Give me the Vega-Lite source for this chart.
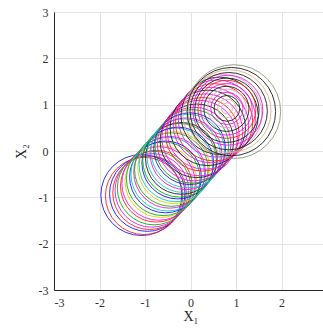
{
  "$schema": "https://vega.github.io/schema/vega-lite/v6.json",
  "autosize": "none",
  "padding": {"left": 54, "top": 12, "right": 0, "bottom": 39},
  "width": 273,
  "height": 278,
  "background": "white",
  "config": {
    "view": {"stroke": "#262626", "strokeWidth": 1},
    "axis": {
      "labelFont": "Liberation Serif", "labelFontSize": 12, "labelColor": "#333333",
      "titleFont": "Liberation Serif", "titleFontSize": 14, "titleFontWeight": "normal", "titleColor": "#262626",
      "domainColor": "#262626", "ticks": false,
      "gridColor": "#e3e3e3", "gridWidth": 1
    }
  },
  "data": {"values": [
    {"cx": -1.08, "cy": -0.95, "r": 0.88, "c": "b"},
    {"cx": -1.02, "cy": -0.97, "r": 0.84, "c": "r"},
    {"cx": -0.95, "cy": -0.92, "r": 0.82, "c": "b"},
    {"cx": -0.9, "cy": -0.9, "r": 0.8, "c": "r"},
    {"cx": -0.85, "cy": -0.85, "r": 0.8, "c": "m"},
    {"cx": -0.8, "cy": -0.8, "r": 0.8, "c": "g"},
    {"cx": -0.75, "cy": -0.76, "r": 0.78, "c": "r"},
    {"cx": -0.7, "cy": -0.7, "r": 0.8, "c": "m"},
    {"cx": -0.65, "cy": -0.66, "r": 0.78, "c": "y"},
    {"cx": -0.6, "cy": -0.6, "r": 0.8, "c": "g"},
    {"cx": -0.55, "cy": -0.56, "r": 0.78, "c": "b"},
    {"cx": -0.5, "cy": -0.5, "r": 0.8, "c": "c"},
    {"cx": -0.46, "cy": -0.46, "r": 0.78, "c": "m"},
    {"cx": -0.42, "cy": -0.4, "r": 0.8, "c": "g"},
    {"cx": -0.37, "cy": -0.36, "r": 0.78, "c": "y"},
    {"cx": -0.32, "cy": -0.3, "r": 0.8, "c": "c"},
    {"cx": -0.28, "cy": -0.26, "r": 0.78, "c": "b"},
    {"cx": -0.24, "cy": -0.2, "r": 0.8, "c": "g"},
    {"cx": -0.2, "cy": -0.16, "r": 0.78, "c": "k"},
    {"cx": -0.15, "cy": -0.1, "r": 0.8, "c": "c"},
    {"cx": -0.1, "cy": -0.06, "r": 0.78, "c": "m"},
    {"cx": -0.06, "cy": 0.0, "r": 0.8, "c": "c"},
    {"cx": -0.02, "cy": 0.05, "r": 0.78, "c": "b"},
    {"cx": 0.03, "cy": 0.1, "r": 0.8, "c": "g"},
    {"cx": 0.08, "cy": 0.15, "r": 0.8, "c": "m"},
    {"cx": 0.14, "cy": 0.22, "r": 0.8, "c": "k"},
    {"cx": 0.2, "cy": 0.28, "r": 0.82, "c": "m"},
    {"cx": 0.26, "cy": 0.36, "r": 0.8, "c": "r"},
    {"cx": 0.32, "cy": 0.42, "r": 0.82, "c": "m"},
    {"cx": 0.38, "cy": 0.5, "r": 0.82, "c": "k"},
    {"cx": 0.45, "cy": 0.56, "r": 0.82, "c": "m"},
    {"cx": 0.52, "cy": 0.62, "r": 0.84, "c": "r"},
    {"cx": 0.58, "cy": 0.7, "r": 0.84, "c": "m"},
    {"cx": 0.64, "cy": 0.76, "r": 0.84, "c": "k"},
    {"cx": 0.7, "cy": 0.8, "r": 0.86, "c": "p"},
    {"cx": 0.95, "cy": 0.85, "r": 1.02, "c": "gr"},
    {"cx": 0.9, "cy": 0.85, "r": 0.96, "c": "k"},
    {"cx": 0.86, "cy": 0.86, "r": 0.9, "c": "be"},
    {"cx": 0.84, "cy": 0.86, "r": 0.84, "c": "k"},
    {"cx": 0.82, "cy": 0.88, "r": 0.76, "c": "m"},
    {"cx": 0.8, "cy": 0.88, "r": 0.7, "c": "k"},
    {"cx": 0.8, "cy": 0.9, "r": 0.63, "c": "r"},
    {"cx": 0.79, "cy": 0.9, "r": 0.56, "c": "m"},
    {"cx": 0.79, "cy": 0.91, "r": 0.49, "c": "k"},
    {"cx": 0.8, "cy": 0.92, "r": 0.42, "c": "p"},
    {"cx": 0.8, "cy": 0.92, "r": 0.35, "c": "m"},
    {"cx": 0.8, "cy": 0.92, "r": 0.28, "c": "k"},
    {"cx": 0.8, "cy": 0.92, "r": 0.2, "c": "be"},
    {"cx": 0.8, "cy": 0.92, "r": 0.12, "c": "p"}
  ]},
  "mark": {"type": "point", "shape": "circle", "filled": false, "strokeWidth": 1, "opacity": 0.9, "clip": true},
  "encoding": {
    "x": {"field": "cx", "type": "quantitative", "scale": {"domain": [-3, 3], "nice": false, "zero": false},
      "axis": {"values": [-3, -2, -1, 0, 1, 2], "labelExpr": "'' + datum.value", "title": "X₁", "labelPadding": 7, "titlePadding": 1, "grid": true}},
    "y": {"field": "cy", "type": "quantitative", "scale": {"domain": [-3, 3], "nice": false, "zero": false},
      "axis": {"values": [-3, -2, -1, 0, 1, 2, 3], "labelExpr": "'' + datum.value", "title": "X₂", "labelPadding": 6, "titlePadding": 10, "grid": true}},
    "size": {"field": "r", "type": "quantitative", "scale": {"type": "pow", "exponent": 2, "domain": [0, 1], "range": [0, 8464]}, "legend": null},
    "color": {"field": "c", "type": "nominal", "legend": null,
      "scale": {"domain": ["b", "r", "g", "c", "m", "y", "k", "p", "gr", "be"],
        "range": ["#1a1aff", "#ff2020", "#10b010", "#10c8d0", "#e81ce8", "#e0d000", "#202020", "#e8a0c8", "#8c9a7a", "#d8b888"]}}
  }
}
